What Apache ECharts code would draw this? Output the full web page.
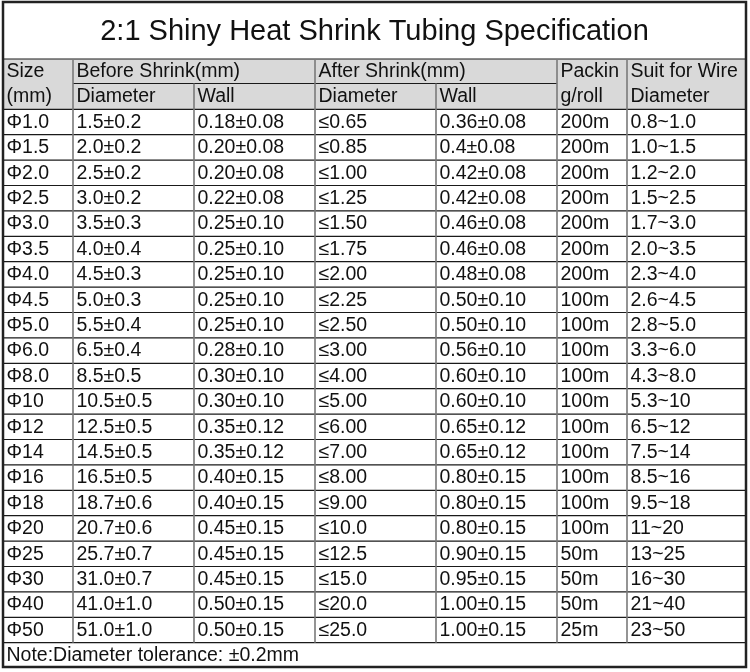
<!DOCTYPE html>
<html>
<head>
<meta charset="utf-8">
<script src="https://cdn.jsdelivr.net/npm/echarts@6/dist/echarts.min.js"></script>
<style>
html,body{margin:0;padding:0;background:#fff;}
#main{width:750px;height:672px;}
</style>
</head>
<body>
<div id="main"></div>
<script>
// ---------- DATA ----------
const title = '2:1 Shiny Heat Shrink Tubing Specification';
const headerRow1 = ['Size', 'Before Shrink(mm)', '', 'After Shrink(mm)', '', 'Packin', 'Suit for Wire'];
const headerRow2 = ['(mm)', 'Diameter', 'Wall', 'Diameter', 'Wall', 'g/roll', 'Diameter'];
const sizes = ['Φ1.0','Φ1.5','Φ2.0','Φ2.5','Φ3.0','Φ3.5','Φ4.0','Φ4.5','Φ5.0','Φ6.0','Φ8.0','Φ10','Φ12','Φ14','Φ16','Φ18','Φ20','Φ25','Φ30','Φ40','Φ50'];
const beforeDiameter = ['1.5±0.2','2.0±0.2','2.5±0.2','3.0±0.2','3.5±0.3','4.0±0.4','4.5±0.3','5.0±0.3','5.5±0.4','6.5±0.4','8.5±0.5','10.5±0.5','12.5±0.5','14.5±0.5','16.5±0.5','18.7±0.6','20.7±0.6','25.7±0.7','31.0±0.7','41.0±1.0','51.0±1.0'];
const beforeWall = ['0.18±0.08','0.20±0.08','0.20±0.08','0.22±0.08','0.25±0.10','0.25±0.10','0.25±0.10','0.25±0.10','0.25±0.10','0.28±0.10','0.30±0.10','0.30±0.10','0.35±0.12','0.35±0.12','0.40±0.15','0.40±0.15','0.45±0.15','0.45±0.15','0.45±0.15','0.50±0.15','0.50±0.15'];
const afterDiameter = ['≤0.65','≤0.85','≤1.00','≤1.25','≤1.50','≤1.75','≤2.00','≤2.25','≤2.50','≤3.00','≤4.00','≤5.00','≤6.00','≤7.00','≤8.00','≤9.00','≤10.0','≤12.5','≤15.0','≤20.0','≤25.0'];
const afterWall = ['0.36±0.08','0.4±0.08','0.42±0.08','0.42±0.08','0.46±0.08','0.46±0.08','0.48±0.08','0.50±0.10','0.50±0.10','0.56±0.10','0.60±0.10','0.60±0.10','0.65±0.12','0.65±0.12','0.80±0.15','0.80±0.15','0.80±0.15','0.90±0.15','0.95±0.15','1.00±0.15','1.00±0.15'];
const packing = ['200m','200m','200m','200m','200m','200m','200m','100m','100m','100m','100m','100m','100m','100m','100m','100m','100m','50m','50m','50m','25m'];
const suitWire = ['0.8~1.0','1.0~1.5','1.2~2.0','1.5~2.5','1.7~3.0','2.0~3.5','2.3~4.0','2.6~4.5','2.8~5.0','3.3~6.0','4.3~8.0','5.3~10','6.5~12','7.5~14','8.5~16','9.5~18','11~20','13~25','16~30','21~40','23~50'];
const note = 'Note:Diameter tolerance: ±0.2mm';

// ---------- LAYOUT (axis units = pixels) ----------
const colEdges = [3, 73, 194, 315, 436, 557, 627, 746];
const tableTop = 2, titleBottom = 59, headerMid = 83.5, headerBottom = 109.3, rowPitch = 25.4, tableBottom = 667;
const dataBottom = headerBottom + rowPitch * sizes.length;
const FONT = '"Liberation Sans", Arial, sans-serif';

const columns = [sizes, beforeDiameter, beforeWall, afterDiameter, afterWall, packing, suitWire];

// cells
const cells = [];
cells.push({value: [colEdges[0], tableTop, colEdges[7], titleBottom], text: title, kind: 'title'});
cells.push({value: [colEdges[0], titleBottom, colEdges[7], headerBottom], text: '', kind: 'headbg'});
headerRow1.forEach((t, c) => {
  const x1 = (c === 1 || c === 3) ? colEdges[c + 2] : colEdges[c + 1];
  if (t) cells.push({value: [colEdges[c], titleBottom, x1, headerMid], text: t, kind: 'head'});
});
headerRow2.forEach((t, c) => {
  cells.push({value: [colEdges[c], headerMid, colEdges[c + 1], headerBottom], text: t, kind: 'head'});
});
for (let r = 0; r < sizes.length; r++) {
  const y0 = headerBottom + r * rowPitch;
  columns.forEach((col, c) => {
    cells.push({value: [colEdges[c], y0, colEdges[c + 1], y0 + rowPitch], text: col[r], kind: 'cell'});
  });
}
cells.push({value: [colEdges[0], dataBottom, colEdges[7], tableBottom], text: note, kind: 'cell'});

// lines
const lines = [];
lines.push({value: [colEdges[0], titleBottom, colEdges[7], titleBottom], kind: 'h'});
lines.push({value: [colEdges[1], headerMid, colEdges[5], headerMid], kind: 'h'});
for (let r = 0; r <= sizes.length; r++) {
  const y = headerBottom + r * rowPitch;
  lines.push({value: [colEdges[0], y, colEdges[7], y], kind: 'h'});
}
for (let c = 1; c < colEdges.length - 1; c++) {
  let top = titleBottom;
  if (c === 2 || c === 4) top = headerMid;
  lines.push({value: [colEdges[c], top, colEdges[c], dataBottom], kind: 'v'});
}
lines.push({value: [colEdges[0], tableTop, colEdges[7], tableBottom], kind: 'box'});

const chart = echarts.init(document.getElementById('main'), null, {renderer: 'canvas'});
chart.setOption({
  backgroundColor: '#ffffff',
  animation: false,
  grid: {left: 0, right: 0, top: 0, bottom: 0},
  xAxis: {type: 'value', min: 0, max: 750, show: false},
  yAxis: {type: 'value', min: 0, max: 672, inverse: true, show: false},
  series: [
    {
      type: 'custom',
      silent: true,
      clip: false,
      data: cells,
      renderItem: function (params, api) {
        const d = cells[params.dataIndex];
        const p0 = api.coord([api.value(0), api.value(1)]);
        const p1 = api.coord([api.value(2), api.value(3)]);
        const children = [];
        if (d.kind === 'headbg') {
          children.push({type: 'rect', shape: {x: p0[0], y: p0[1], width: p1[0] - p0[0], height: p1[1] - p0[1]}, style: {fill: '#d9d9d9'}});
        } else if (d.kind === 'title') {
          children.push({type: 'text', style: {text: d.text, x: (p0[0] + p1[0]) / 2, y: (p0[1] + p1[1]) / 2 + 1, align: 'center', verticalAlign: 'middle', fontSize: 29, fontFamily: FONT, fill: '#111'}});
        } else {
          children.push({type: 'text', style: {text: d.text, x: p0[0] + 3.5, y: (p0[1] + p1[1]) / 2 + 0.5, align: 'left', verticalAlign: 'middle', fontSize: 19.5, fontFamily: FONT, fill: '#111'}});
        }
        return {type: 'group', children: children};
      }
    },
    {
      type: 'custom',
      silent: true,
      clip: false,
      data: lines,
      renderItem: function (params, api) {
        const d = lines[params.dataIndex];
        const p0 = api.coord([api.value(0), api.value(1)]);
        const p1 = api.coord([api.value(2), api.value(3)]);
        if (d.kind === 'box') {
          return {type: 'rect', shape: {x: p0[0], y: p0[1], width: p1[0] - p0[0], height: p1[1] - p0[1]}, style: {fill: null, stroke: '#222', lineWidth: 2.5}};
        }
        return {type: 'line', shape: {x1: p0[0], y1: p0[1], x2: p1[0], y2: p1[1]},
          style: d.kind === 'v' ? {stroke: '#7a7a7a', lineWidth: 1.6} : {stroke: '#1a1a1a', lineWidth: 1.2}};
      }
    }
  ]
});
</script>
</body>
</html>
